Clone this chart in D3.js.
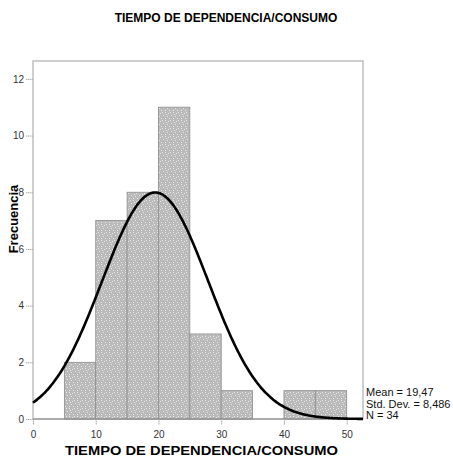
<!DOCTYPE html>
<html>
<head>
<meta charset="utf-8">
<script src="https://cdn.jsdelivr.net/npm/d3@7"></script>
<style>
  body { margin: 0; background: #fff; }
  text { font-family: "Liberation Sans", Arial, sans-serif; }
</style>
</head>
<body>
<div id="chart"></div>
<script>
// histogram bins (width 5) and counts
const binStarts = [5, 10, 15, 20, 25, 30, 35, 40, 45];
const counts = [2, 7, 8, 11, 3, 1, 0, 1, 1];
const binWidth = 5;
const xTicks = [0, 10, 20, 30, 40, 50];
const yTicks = [0, 2, 4, 6, 8, 10, 12];
const mean = 19.47, sd = 8.486, n = 34;
const statLines = ["Mean = 19,47", "Std. Dev. = 8,486", "N = 34"];

const width = 453, height = 458;
const plotLeft = 33, plotRight = 363, plotTop = 61, plotBottom = 419;

const svg = d3.select("#chart").append("svg")
    .attr("width", width)
    .attr("height", height);

// stipple pattern for the bars
const pat = svg.append("defs").append("pattern")
    .attr("id", "stip")
    .attr("width", 8).attr("height", 8)
    .attr("patternUnits", "userSpaceOnUse");
pat.append("rect").attr("width", 8).attr("height", 8).attr("fill", "#bababa");
[[0, 1], [5, 0], [3, 3], [7, 4], [1, 6], [5, 6], [2, 0], [6, 2]].forEach(p => {
    pat.append("rect").attr("x", p[0]).attr("y", p[1])
        .attr("width", 1).attr("height", 1)
        .attr("fill", "#e8e8e8");
});

const x = d3.scaleLinear().domain([0, 52.6]).range([plotLeft, plotRight]);
const y = d3.scaleLinear().domain([0, 12.63]).range([plotBottom, plotTop]);

// frame
svg.append("rect")
    .attr("x", plotLeft).attr("y", plotTop)
    .attr("width", plotRight - plotLeft).attr("height", plotBottom - plotTop)
    .attr("fill", "none").attr("stroke", "#c4c4c4").attr("stroke-width", 1.6);

// bars
svg.selectAll(".bar")
    .data(binStarts.map((s, i) => ({ s: s, c: counts[i] })).filter(d => d.c > 0))
    .enter().append("rect")
    .attr("x", d => x(d.s))
    .attr("y", d => y(d.c))
    .attr("width", d => x(d.s + binWidth) - x(d.s))
    .attr("height", d => y(0) - y(d.c))
    .attr("fill", "url(#stip)")
    .attr("stroke", "#8c8c8c")
    .attr("stroke-width", 0.8);

// x axis line
svg.append("line")
    .attr("x1", plotLeft).attr("x2", plotRight)
    .attr("y1", plotBottom).attr("y2", plotBottom)
    .attr("stroke", "#888");

// axes
const xAxis = svg.append("g")
    .attr("transform", `translate(0,${plotBottom})`)
    .call(d3.axisBottom(x).tickValues(xTicks).tickSize(6).tickPadding(6));
const yAxis = svg.append("g")
    .attr("transform", `translate(${plotLeft},0)`)
    .call(d3.axisLeft(y).tickValues(yTicks).tickSize(7).tickPadding(2));
[xAxis, yAxis].forEach(a => {
    a.select(".domain").remove();
    a.selectAll("line").attr("stroke", "#aaa").attr("stroke-dasharray", "1.5,0.5");
    a.selectAll("text")
        .style("font-family", "Liberation Sans, Arial, sans-serif")
        .style("font-size", "10px")
        .attr("fill", "#333");
});

// normal curve scaled to counts
const scaleK = n * binWidth / (sd * Math.sqrt(2 * Math.PI));
const xs = d3.range(0, 52.6 + 0.01, 0.2);
const line = d3.line()
    .x(v => x(v))
    .y(v => y(scaleK * Math.exp(-((v - mean) ** 2) / (2 * sd * sd))))
    .curve(d3.curveBasis);
svg.append("path")
    .datum(xs)
    .attr("d", line)
    .attr("fill", "none")
    .attr("stroke", "#000")
    .attr("stroke-width", 2.6);

// titles
svg.append("text")
    .attr("x", 226).attr("y", 22)
    .attr("text-anchor", "middle")
    .style("font-size", "12px").style("font-weight", "bold")
    .text("TIEMPO DE DEPENDENCIA/CONSUMO");

svg.append("text")
    .attr("x", 201.5).attr("y", 455)
    .attr("text-anchor", "middle")
    .attr("textLength", 273)
    .attr("lengthAdjust", "spacingAndGlyphs")
    .style("font-size", "13.5px").style("font-weight", "bold")
    .text("TIEMPO DE DEPENDENCIA/CONSUMO");

svg.append("text")
    .attr("transform", "translate(18,219) rotate(-90)")
    .attr("text-anchor", "middle")
    .style("font-size", "13px").style("font-weight", "bold")
    .text("Frecuencia");

// stats box text
svg.selectAll(".stat")
    .data(statLines)
    .enter().append("text")
    .attr("x", plotRight + 3)
    .attr("y", (d, i) => 396 + i * 11.5)
    .style("font-size", "11px")
    .attr("fill", "#111")
    .text(d => d);
</script>
</body>
</html>
